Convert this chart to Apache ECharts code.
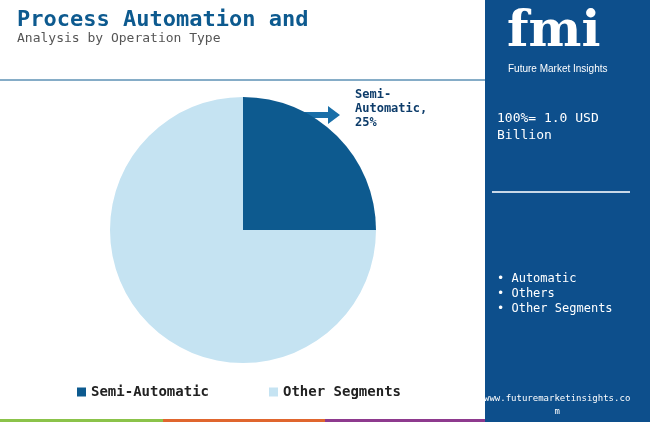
<!DOCTYPE html>
<html>
<head>
<meta charset="utf-8">
<script src="https://cdn.jsdelivr.net/npm/echarts@6/dist/echarts.min.js"></script>
<style>html,body{margin:0;padding:0;background:#fff}</style>
</head>
<body>
<div id="main" style="width:650px;height:426px;"></div>
<script>
var categories = ['Semi-Automatic', 'Other Segments'];
var shares = [25, 75];
var colors = ['#0d5a8f', '#c5e3f2'];
var sideList = ['Automatic', 'Others', 'Other Segments'];

var myChart = echarts.init(document.getElementById('main'));
var mono = '"DejaVu Sans Mono", "Liberation Mono", monospace';

var option = {
    animation: false,
    title: [{
        text: 'Process Automation and',
        left: 12, top: 4,
        textStyle: {fontFamily: mono, fontWeight: 'bold', fontSize: 22, color: '#0d5a8f'}
    }, {
        text: 'Analysis by Operation Type',
        left: 12, top: 27,
        textStyle: {fontFamily: mono, fontWeight: 'normal', fontSize: 13, color: '#555'}
    }],
    legend: {
        bottom: 22, left: 72,
        itemWidth: 9, itemHeight: 9, itemGap: 60,
        icon: 'rect',
        textStyle: {fontFamily: mono, fontWeight: 'bold', fontSize: 14, color: '#222'},
        data: categories
    },
    series: [{
        type: 'pie',
        center: [243, 230],
        radius: [0, 133],
        startAngle: 90,
        clockwise: true,
        label: {show: false},
        labelLine: {show: false},
        data: categories.map(function (c, i) {
            return {name: c, value: shares[i], itemStyle: {color: colors[i]}};
        })
    }],
    graphic: [
        {type: 'line', shape: {x1: 0, y1: 80, x2: 485, y2: 80}, style: {stroke: '#0d5a8f', lineWidth: 1}},
        {type: 'rect', shape: {x: 485, y: 0, width: 165, height: 420}, style: {fill: '#0d4f8c'}},
        {type: 'text', left: 507, top: 8, style: {text: 'fmi', fill: '#fff', font: 'bold 50px "DejaVu Serif", serif'}},
        {type: 'text', left: 508, top: 64, style: {text: 'Future Market Insights', fill: '#fff', font: '10px "Liberation Sans Narrow", "Liberation Sans", sans-serif'}},
        {type: 'text', left: 497, top: 110, style: {text: '100%= 1.0 USD\nBillion', fill: '#fff', font: '13px ' + mono, lineHeight: 17}},
        {type: 'line', shape: {x1: 492, y1: 192, x2: 630, y2: 192}, style: {stroke: '#c8d8e8', lineWidth: 2}},
        {type: 'text', left: 497, top: 271, style: {text: sideList.map(function (s) { return '\u2022 ' + s; }).join('\n'), fill: '#fff', font: '12px ' + mono, lineHeight: 15}},
        {type: 'text', left: 484, top: 392, style: {text: 'www.futuremarketinsights.co\n             m', fill: '#fff', font: '9px ' + mono, lineHeight: 13}},
        {type: 'rect', shape: {x: 0, y: 419, width: 163, height: 3}, style: {fill: '#8bc34a'}},
        {type: 'rect', shape: {x: 163, y: 419, width: 162, height: 3}, style: {fill: '#e0662e'}},
        {type: 'rect', shape: {x: 325, y: 419, width: 160, height: 3}, style: {fill: '#8e3a8e'}},
        {type: 'rect', shape: {x: 485, y: 419, width: 165, height: 3}, style: {fill: '#0d4f8c'}},
        {type: 'text', left: 355, top: 88, style: {text: 'Semi-\nAutomatic,\n25%', fill: '#0d3c6a', font: 'bold 12px ' + mono, lineHeight: 14, align: 'center'}},
        {type: 'polygon', shape: {points: [[304, 112], [328, 112], [328, 106], [340, 115], [328, 124], [328, 118], [304, 118]]}, style: {fill: '#1a6fa8'}}
    ]
};
myChart.setOption(option);
</script>
</body>
</html>
